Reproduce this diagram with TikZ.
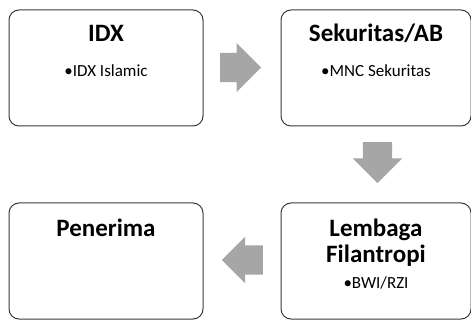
\documentclass[tikz,border=0pt]{standalone}
\usepackage{fontspec}
\setmainfont{Carlito}
\usetikzlibrary{shapes.arrows}
\definecolor{boxline}{HTML}{3A3A3A}
\definecolor{arrowgray}{HTML}{A6A6A6}
\tikzset{box/.style={draw=boxline,line width=1pt,rounded corners=10pt,minimum width=194pt,minimum height=116pt,inner sep=0pt}}
\tikzset{ttl/.style={font=\bfseries\fontsize{25}{25}\selectfont,align=center,inner sep=0pt,anchor=base}}
\tikzset{itm/.style={font=\fontsize{17}{18}\selectfont,inner sep=0pt,anchor=base}}
\tikzset{blk/.style={single arrow,fill=arrowgray,draw=none,anchor=tail,minimum height=41pt,inner xsep=0pt,inner ysep=14.5pt,single arrow head extend=10pt}}

\begin{document}
\begin{tikzpicture}[x=1pt,y=-1pt]
    \useasboundingbox (0,0) rectangle (471,320);
    % boxes
    \node[box] (IDX) at (106,68) {};
    \node[box,minimum width=190pt] (SEK) at (376,68) {};
    \node[box] (PEN) at (106,261) {};
    \node[box,minimum width=190pt] (LEM) at (376,261) {};
    % texts
    \node[ttl] (IDXt) at (106,42) {IDX};
    \node[itm] (IDXi) at (106,77) {\textbullet IDX Islamic};
    \node[ttl] (SEKt) at (376,42) {Sekuritas/AB};
    \node[itm] (SEKi) at (376,77) {\textbullet MNC Sekuritas};
    \node[ttl] (LEMt) at (376,262) {Lembaga\\Filantropi};
    \node[itm] (LEMi) at (376,288) {\textbullet BWI/RZI};
    \node[ttl] (PENt) at (106,237) {Penerima};
    % arrows
    \node[blk] (a1) at (220,67.5) {};
    \node[blk,shape border rotate=270,inner xsep=14.5pt,inner ysep=0pt] (a2) at (377.5,142) {};
    \node[blk,shape border rotate=180,single arrow head extend=8.5pt] (a3) at (263,260) {};
\end{tikzpicture}
\end{document}
